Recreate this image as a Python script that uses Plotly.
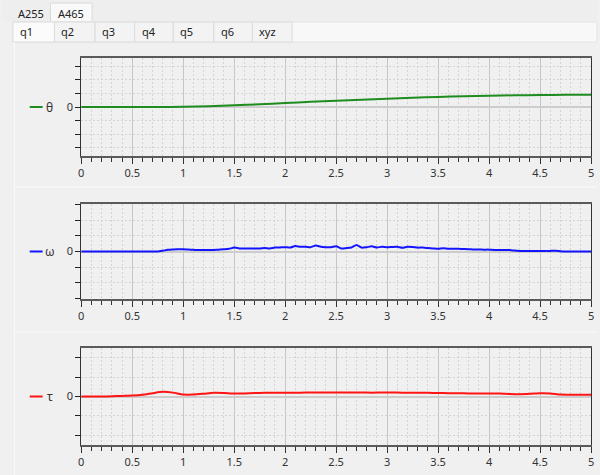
import numpy as np
import plotly.graph_objects as go

# ---------------- data ----------------
t_theta = [0.0, 0.25, 0.5, 0.75, 1.0, 1.25, 1.5, 1.75, 2.0, 2.25, 2.5, 2.75,
           3.0, 3.25, 3.5, 3.75, 4.0, 4.25, 4.5, 4.75, 5.0]
theta = [0.0, 0.0, 0.0, 0.0, 0.02, 0.06, 0.12, 0.2, 0.29, 0.38, 0.46, 0.54,
         0.61, 0.68, 0.74, 0.79, 0.83, 0.86, 0.88, 0.9, 0.9]

t_omega = [round(i * 0.05, 2) for i in range(101)]
omega = [0.0] * 16 + [
    0.05, 0.11, 0.13, 0.14, 0.15, 0.13, 0.11, 0.09, 0.09, 0.09,   # 0.80-1.25
    0.10, 0.12, 0.14, 0.17, 0.25, 0.20, 0.19, 0.19, 0.20, 0.19,   # 1.30-1.75
    0.22, 0.20, 0.25, 0.26, 0.28, 0.25, 0.36, 0.30, 0.30, 0.28,   # 1.80-2.25
    0.38, 0.30, 0.28, 0.28, 0.34, 0.20, 0.22, 0.26, 0.42, 0.25,   # 2.30-2.75
    0.28, 0.33, 0.26, 0.30, 0.27, 0.29, 0.30, 0.24, 0.31, 0.29,   # 2.80-3.25
    0.25, 0.25, 0.22, 0.20, 0.17, 0.21, 0.18, 0.18, 0.17, 0.16,   # 3.30-3.75
    0.15, 0.13, 0.13, 0.12, 0.12, 0.10, 0.10, 0.09, 0.09, 0.06,   # 3.80-4.25
    0.04, 0.03, 0.03, 0.03, 0.03, 0.04, 0.04, 0.05, 0.02, 0.0,    # 4.30-4.75
    0.0, 0.0, 0.0, 0.0, 0.0,                                      # 4.80-5.00
]

t_tau = [round(i * 0.1, 1) for i in range(51)]
tau = [0.0, 0.0, 0.0, 0.01, 0.03, 0.05, 0.09, 0.17, 0.24, 0.2,
       0.1, 0.1, 0.14, 0.19, 0.18, 0.15, 0.16, 0.18, 0.19, 0.19,
       0.19, 0.19, 0.2, 0.2, 0.21, 0.21, 0.21, 0.21, 0.2, 0.2,
       0.2, 0.2, 0.19, 0.19, 0.19, 0.18, 0.17, 0.17, 0.16, 0.16,
       0.16, 0.15, 0.13, 0.12, 0.14, 0.17, 0.16, 0.1, 0.09, 0.09,
       0.09]

series_names = ["θ", "ω", "τ"]
series_colors = ["#1f8c1f", "#1414ff", "#ff1414"]
y_limits = [3.6, 3.05, 2.5]
y_tick_vals = [[-3, -2, -1, 0, 1, 2, 3], [-3, -2, -1, 0, 1, 2, 3], [-2, -1, 0, 1, 2]]
x_tick_vals = [0, 0.5, 1, 1.5, 2, 2.5, 3, 3.5, 4, 4.5, 5]
x_tick_text = ["0", "0.5", "1", "1.5", "2", "2.5", "3", "3.5", "4", "4.5", "5"]

top_tabs = ["A255", "A465"]
sub_tabs = ["q1", "q2", "q3", "q4", "q5", "q6", "xyz"]

# ---------------- layout helpers ----------------
W, H = 600, 475
def py(p):  # pixel y -> paper y
    return 1 - p / H
def px(p):
    return p / W

panels_px = [(58, 156), (204, 299), (348, 445)]
x_dom = [px(79), px(594)]
FONT = "Noto Sans, Segoe UI, sans-serif"

fig = go.Figure()
xs = [t_theta, t_omega, t_tau]
ys = [theta, omega, tau]
for i in range(3):
    fig.add_trace(go.Scatter(
        x=xs[i], y=ys[i], mode="lines", name=series_names[i],
        line=dict(color=series_colors[i], width=2, shape="spline", smoothing=0.6),
        xaxis="x" if i == 0 else f"x{i+1}", yaxis="y" if i == 0 else f"y{i+1}",
        showlegend=False, hoverinfo="skip"))

layout = dict(width=W, height=H, margin=dict(l=0, r=0, t=0, b=0),
              paper_bgcolor="#f0f0f0", plot_bgcolor="#f0f0f0",
              font=dict(family=FONT, size=11, color="#333333"), showlegend=False)

shapes = []
annotations = []

for i in range(3):
    top, bot = panels_px[i]
    xk = "xaxis" if i == 0 else f"xaxis{i+1}"
    yk = "yaxis" if i == 0 else f"yaxis{i+1}"
    yname = "y" if i == 0 else f"y{i+1}"
    layout[xk] = dict(
        domain=x_dom, anchor=yname, range=[0, 5],
        tickvals=x_tick_vals, ticktext=x_tick_text,
        ticks="outside", ticklen=6, tickwidth=1, tickcolor="#333333",
        showline=True, linecolor="#5a5a5a", linewidth=1.5, mirror=True,
        showgrid=True, gridcolor="#c6c6c6", gridwidth=1,
        zeroline=False,
        minor=dict(dtick=0.1, ticks="outside", ticklen=4, tickcolor="#333333",
                   showgrid=True, gridcolor="#d4d4d4", griddash="2px,2px", gridwidth=1),
        tickfont=dict(size=11, color="#333333"), fixedrange=True)
    layout[yk] = dict(
        domain=[py(bot), py(top)], anchor="x" if i == 0 else f"x{i+1}",
        range=[-y_limits[i], y_limits[i]],
        tickvals=y_tick_vals[i],
        ticktext=["0" if v == 0 else "" for v in y_tick_vals[i]],
        ticks="outside", ticklen=5, tickwidth=1, tickcolor="#222222",
        showline=True, linecolor="#333333", linewidth=1, mirror=True,
        showgrid=True, gridcolor="#d4d4d4", griddash="2px,2px", gridwidth=1,
        zeroline=True, zerolinecolor="#cdcdcd", zerolinewidth=2,
        tickfont=dict(size=11, color="#333333"), fixedrange=True)
    # legend swatch + label
    shapes.append(dict(type="line", xref="paper", yref=yname, x0=px(27), x1=px(40),
                       y0=0, y1=0, line=dict(color=series_colors[i], width=2)))
    annotations.append(dict(text=series_names[i], xref="paper", yref=yname,
                            x=px(47), y=0, xanchor="center", yanchor="middle",
                            showarrow=False, font=dict(size=12, color="#333333")))

# window chrome (tabs) drawn as shapes behind everything
bg = []
bg.append(dict(type="rect", xref="paper", yref="paper", x0=0, x1=1, y0=py(22), y1=1,
               fillcolor="#eeeeee", line=dict(width=0), layer="below"))
bg.append(dict(type="rect", xref="paper", yref="paper", x0=px(48), x1=px(90),
               y0=py(22), y1=py(3), fillcolor="#f9f9f9",
               line=dict(color="#dadada", width=1), layer="below"))
bg.append(dict(type="rect", xref="paper", yref="paper", x0=px(10), x1=1,
               y0=py(42), y1=py(22), fillcolor="#f8f8f8",
               line=dict(color="#e4e4e4", width=1), layer="below"))
tab_edges = [10, 52, 93, 133, 172, 213, 252, 292]
for k in range(len(sub_tabs)):
    bg.append(dict(type="rect", xref="paper", yref="paper",
                   x0=px(tab_edges[k]), x1=px(tab_edges[k + 1]),
                   y0=py(42), y1=py(22),
                   fillcolor="#fbfbfb" if k == 0 else "#f3f3f3",
                   line=dict(color="#dcdcdc", width=1), layer="below"))
    annotations.append(dict(text=sub_tabs[k], xref="paper", yref="paper",
                            x=px(tab_edges[k] + 5), y=py(32), xanchor="left",
                            yanchor="middle", showarrow=False,
                            font=dict(size=11, color="#222222")))
tab_x = [13, 54]
for k in range(len(top_tabs)):
    annotations.append(dict(text=top_tabs[k], xref="paper", yref="paper",
                            x=px(tab_x[k]), y=py(13), xanchor="left",
                            yanchor="middle", showarrow=False,
                            font=dict(size=11, color="#222222")))
# content area border & separators
bg.append(dict(type="line", xref="paper", yref="paper", x0=px(11.5), x1=px(11.5),
               y0=0, y1=py(42), line=dict(color="#fafafa", width=1), layer="below"))
for sy in [187, 332]:
    bg.append(dict(type="line", xref="paper", yref="paper", x0=px(12), x1=1,
                   y0=py(sy), y1=py(sy), line=dict(color="#fafafa", width=1),
                   layer="below"))

layout["shapes"] = bg + shapes
layout["annotations"] = annotations
fig.update_layout(**layout)
fig.write_html("out.html", config={"displayModeBar": False},
               post_script="document.body.style.margin='0';document.body.style.overflow='hidden';")
